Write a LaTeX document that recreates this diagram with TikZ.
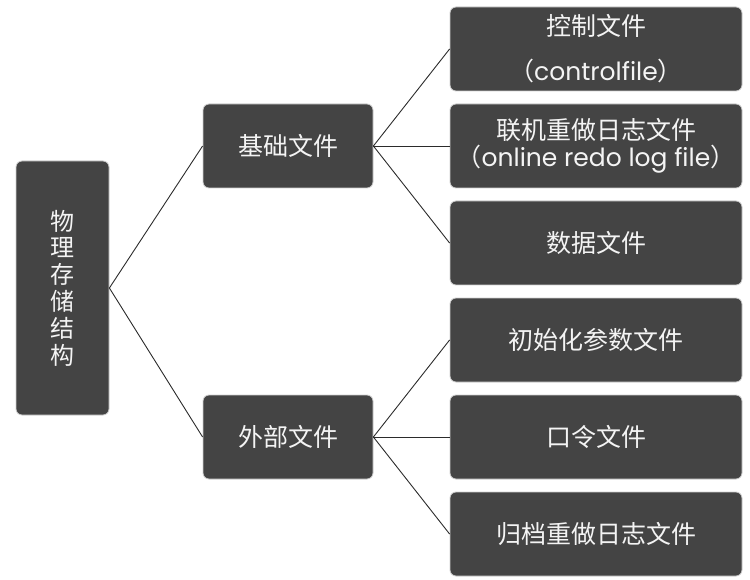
\documentclass[tikz,border=0pt]{standalone}
\usepackage{fontspec}
\setmainfont{Poppins}
\newfontfamily\cjk{Noto Sans CJK SC}
\definecolor{boxfill}{HTML}{444444}
\definecolor{boxedge}{HTML}{CFCFCF}
\definecolor{boxtext}{HTML}{F4F4F4}
\definecolor{linecol}{HTML}{2B2B2B}
\begin{document}
\begin{tikzpicture}[x=1pt,y=-1pt,
  box/.style={draw=boxedge, line width=0.8pt, fill=boxfill, rounded corners=6pt,
    text=boxtext, align=center, inner sep=0pt, font=\fontsize{25}{27}\selectfont},
  rootbox/.style={box, minimum width=93pt, minimum height=254pt, font=\cjk\fontsize{24}{26.8}\selectfont},
  midbox/.style={box, minimum width=170pt, minimum height=84pt},
  leafbox/.style={box, minimum width=292pt, minimum height=84pt},
  conn/.style={draw=linecol, line width=0.9pt}]
\useasboundingbox (0,0) rectangle (750,580);
\node[rootbox] (root) at (62.5,288) {物\\理\\存\\储\\结\\构};
\node[midbox] (base) at (288,146) {\cjk 基础文件};
\node[midbox] (ext) at (288,437) {\cjk 外部文件};
\node[leafbox, font=\fontsize{25}{45}\selectfont] (ctl) at (596,49) {{\cjk 控制文件}\\{\cjk （}controlfile{\cjk ）}};
\node[leafbox] (redo) at (596,146) {{\cjk 联机重做日志文件}\\{\cjk （}online redo log file{\cjk ）}};
\node[leafbox] (data) at (596,243) {\cjk 数据文件};
\node[leafbox] (init) at (596,340) {\cjk 初始化参数文件};
\node[leafbox] (pwd) at (596,437) {\cjk 口令文件};
\node[leafbox] (arch) at (596,534) {\cjk 归档重做日志文件};
\draw[conn] (root.east) -- (base.west);
\draw[conn] (root.east) -- (ext.west);
\foreach \t in {ctl,redo,data} \draw[conn] (base.east) -- (\t.west);
\foreach \t in {init,pwd,arch} \draw[conn] (ext.east) -- (\t.west);
\end{tikzpicture}
\end{document}
